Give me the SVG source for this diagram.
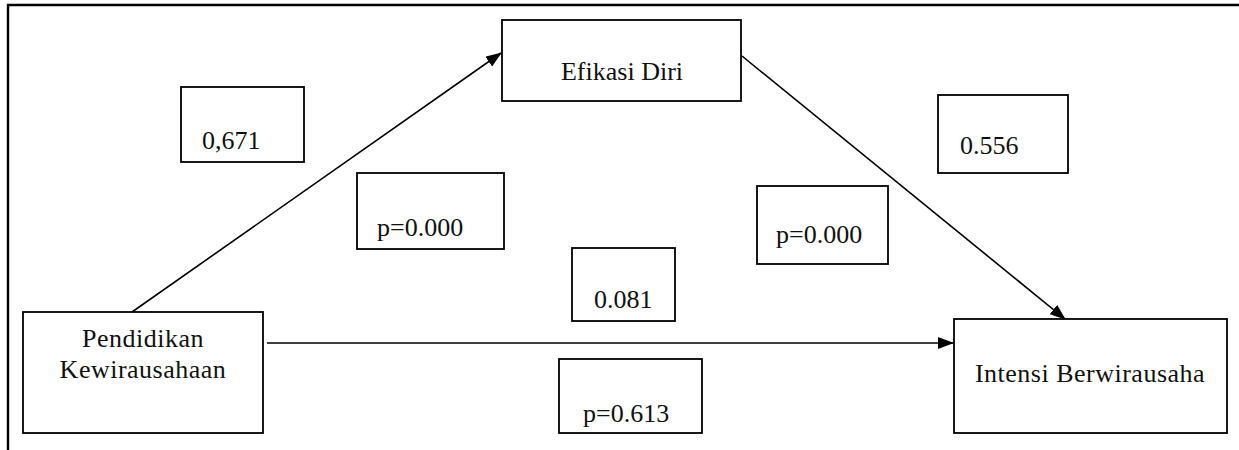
<svg xmlns="http://www.w3.org/2000/svg" width="1239" height="450" viewBox="0 0 1239 450">
<style>
  .box { fill: #fff; stroke: #000; stroke-width: 1.8; }
  .frame { fill: none; stroke: #000; stroke-width: 2.4; }
  .conn { stroke: #000; stroke-width: 1.6; fill: none; }
  text { font-family: "Liberation Serif", "Times New Roman", serif; font-size: 26px; fill: #111; }
  .mid { text-anchor: middle; }
  .sp { letter-spacing: 0.5px; }
</style>
<defs>
  <marker id="arrow" markerUnits="userSpaceOnUse" markerWidth="16" markerHeight="12" refX="15" refY="6" orient="auto">
    <path d="M0,0 L16,6 L0,12 z" fill="#000"/>
  </marker>
</defs>
<g id="frame">
  <polyline class="frame" points="1239,5 8,5 8,450"/>
</g>
<g id="connectors">
  <line class="conn" x1="132" y1="312" x2="501" y2="53" marker-end="url(#arrow)"/>
  <line class="conn" x1="742" y1="56" x2="1065" y2="319" marker-end="url(#arrow)"/>
  <line class="conn" x1="267" y1="343" x2="953" y2="343" marker-end="url(#arrow)"/>
</g>
<g id="node-efikasi">
  <rect class="box" x="502" y="20" width="239" height="81"/>
  <text class="mid" x="622" y="80">Efikasi Diri</text>
</g>
<g id="node-pendidikan">
  <rect class="box" x="23" y="312" width="240" height="121"/>
  <text class="mid sp" x="143" y="347">Pendidikan</text>
  <text class="mid sp" x="143" y="378">Kewirausahaan</text>
</g>
<g id="node-intensi">
  <rect class="box" x="954" y="319" width="273" height="114"/>
  <text class="mid sp" x="1090" y="382">Intensi Berwirausaha</text>
</g>
<g id="label-0671">
  <rect class="box" x="181" y="87" width="123" height="75"/>
  <text x="202" y="149">0,671</text>
</g>
<g id="label-p1">
  <rect class="box" x="357" y="173" width="147" height="76"/>
  <text x="377" y="236">p=0.000</text>
</g>
<g id="label-0556">
  <rect class="box" x="938" y="95" width="130" height="78"/>
  <text x="960" y="154">0.556</text>
</g>
<g id="label-p2">
  <rect class="box" x="757" y="186" width="131" height="78"/>
  <text x="776" y="243">p=0.000</text>
</g>
<g id="label-0081">
  <rect class="box" x="572" y="248" width="103" height="73"/>
  <text x="594" y="308">0.081</text>
</g>
<g id="label-p3">
  <rect class="box" x="559" y="359" width="143" height="74"/>
  <text x="583" y="422">p=0.613</text>
</g>
</svg>
